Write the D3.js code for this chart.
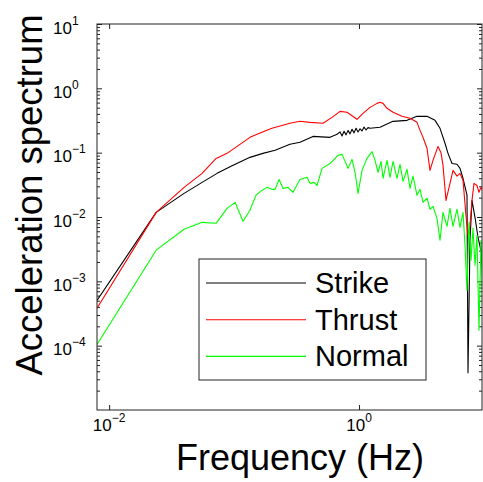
<!DOCTYPE html>
<html>
<head>
<meta charset="utf-8">
<script src="https://cdn.jsdelivr.net/npm/d3@7"></script>
<style>
  html, body { margin: 0; padding: 0; background: #fff; }
  svg { display: block; font-family: "Liberation Sans", Arial, Helvetica, sans-serif; }
</style>
</head>
<body>
<svg id="chart" width="483" height="482"></svg>
<script>
// ---------- data ----------
const seriesNames = ["Strike", "Thrust", "Normal"];
const seriesColors = ["#000000", "#ff0000", "#00ff00"];

const strikeFreq = [0.008, 0.0238, 0.0398, 0.0555, 0.0731, 0.0982, 0.134, 0.170, 0.213, 0.280, 0.337, 0.428, 0.586, 0.667,
  0.705, 0.731, 0.759, 0.787, 0.817, 0.847, 0.879, 0.912, 0.946, 0.982, 1.019, 1.057, 1.096, 1.138, 1.180, 1.225,
  1.472, 1.871, 2.421, 2.911, 3.500, 4.055, 4.446, 4.875, 5.152, 5.547, 6.082, 6.427, 6.793, 7.312, 7.448, 7.727,
  8.017, 8.472, 8.953, 9.82];
const strikeVal = [5.06e-4, 0.0118, 0.0233, 0.0345, 0.0477, 0.0635, 0.0845, 0.0975, 0.109, 0.135, 0.145, 0.179, 0.173, 0.193,
  0.210, 0.182, 0.215, 0.189, 0.222, 0.196, 0.231, 0.203, 0.240, 0.210, 0.235, 0.218, 0.250, 0.225, 0.245, 0.239,
  0.248, 0.307, 0.318, 0.367, 0.367, 0.318, 0.239, 0.140, 0.0975, 0.0678, 0.066, 0.057, 0.040, 0.0218, 3.8e-5, 0.00435,
  0.0181, 0.0099, 0.00485, 0.00212];

const thrustFreq = [0.008, 0.0238, 0.0398, 0.0555, 0.0718, 0.0879, 0.134, 0.167, 0.201, 0.280, 0.337, 0.405, 0.515, 0.608,
  0.705, 0.802, 0.964, 1.076, 1.225, 1.393, 1.472, 1.556, 1.675, 1.871, 2.208, 2.559, 2.911, 3.076, 3.251, 3.500,
  3.698, 3.908, 4.286, 4.529, 4.699, 4.966, 5.346, 5.650, 6.082, 6.427, 6.793, 7.178, 7.448, 7.727, 8.017, 8.317,
  8.790, 9.120, 9.463, 9.82];
const thrustVal = [3.81e-4, 0.0118, 0.0289, 0.0477, 0.0815, 0.0975, 0.173, 0.207, 0.239, 0.286, 0.307, 0.296, 0.286, 0.354,
  0.439, 0.424, 0.330, 0.409, 0.506, 0.584, 0.606, 0.584, 0.489, 0.424, 0.367, 0.342, 0.296, 0.222, 0.173, 0.117,
  0.0531, 0.0759, 0.125, 0.100, 0.0635, 0.0181, 0.0333, 0.0531, 0.0432, 0.0477, 0.0372, 0.0105, 0.0052, 0.00743, 0.0181, 0.0333,
  0.0309, 0.0242, 0.0289, 0.0259];

const normalFreq = [0.008, 0.0238, 0.0398, 0.0555, 0.0718, 0.0879, 0.1019, 0.118, 0.134, 0.1495, 0.167, 0.183, 0.201, 0.213,
  0.229, 0.247, 0.270, 0.296, 0.337, 0.384, 0.405, 0.436, 0.461, 0.506, 0.586, 0.679, 0.731, 0.773, 0.817, 0.879,
  0.929, 0.982, 1.057, 1.159, 1.271, 1.343, 1.419, 1.500, 1.556, 1.675, 1.770, 1.871, 2.014, 2.128, 2.249, 2.421,
  2.559, 2.704, 2.911, 3.076, 3.251, 3.500, 3.698, 3.908, 4.207, 4.446, 4.699, 5.058, 5.346, 5.650, 6.082, 6.427,
  6.793, 7.048, 7.312, 7.587, 7.871, 8.166, 8.472, 8.790, 9.120, 9.463, 9.82];
const normalVal = [1.04e-4, 0.00305, 0.00645, 0.00826, 0.00798, 0.0136, 0.0169, 0.00857, 0.0127, 0.0217, 0.0259, 0.0289, 0.0269, 0.0269,
  0.0383, 0.0278, 0.0289, 0.0242, 0.0383, 0.0414, 0.0333, 0.0345, 0.0309, 0.057, 0.0678, 0.0908, 0.0941, 0.0733, 0.057, 0.0786,
  0.0496, 0.0233, 0.0531, 0.0815, 0.104, 0.0759, 0.0496, 0.0731, 0.040, 0.0759, 0.0414, 0.0733, 0.040, 0.066, 0.0358, 0.0551,
  0.0278, 0.0432, 0.0217, 0.0269, 0.0169, 0.0196, 0.0132, 0.0146, 0.00954, 0.00435, 0.0118, 0.00717, 0.0136, 0.00717, 0.0132, 0.00691,
  0.0118, 0.00362, 7.24e-4, 0.00826, 0.00212, 0.00672, 0.00178, 0.0052, 1.73e-4, 0.00435, 5.06e-4];

const xTickValues = [0.01, 1];
const xTickExponents = ["\u22122", "0"];
const yTickValues = [1e-4, 1e-3, 1e-2, 1e-1, 1, 10];
const yTickExponents = ["\u22124", "\u22123", "\u22122", "\u22121", "0", "1"];
const xTitle = "Frequency (Hz)";
const yTitle = "Acceleration spectrum";

// ---------- layout ----------
const L = 97, R = 482, T = 24, B = 410;
const svg = d3.select("#chart");

const x = d3.scaleLog().domain([0.008, 9.64]).range([L, R]);
const y = d3.scaleLog().domain([1e-5, 10]).range([B, T]);

const axisColor = "#222";

const yMinor = [];
for (let e = -5; e < 1; e++) for (let m = 2; m <= 9; m++) yMinor.push(m * Math.pow(10, e));

function styleAxis(g) {
  g.select(".domain").remove();
  g.selectAll("line").attr("stroke", axisColor).attr("stroke-width", 1);
  g.selectAll("text").remove();
}

svg.append("g").attr("transform", `translate(${L},0)`)
  .call(d3.axisLeft(y).tickValues(yTickValues).tickSize(-5).tickFormat("")).call(styleAxis);
svg.append("g").attr("transform", `translate(${L},0)`)
  .call(d3.axisLeft(y).tickValues(yMinor).tickSize(-3).tickFormat("")).call(styleAxis);
svg.append("g").attr("transform", `translate(${R},0)`)
  .call(d3.axisRight(y).tickValues(yTickValues).tickSize(-5).tickFormat("")).call(styleAxis);
svg.append("g").attr("transform", `translate(${R},0)`)
  .call(d3.axisRight(y).tickValues(yMinor).tickSize(-3).tickFormat("")).call(styleAxis);
svg.append("g").attr("transform", `translate(0,${B})`)
  .call(d3.axisBottom(x).tickValues(xTickValues).tickSize(-5).tickFormat("")).call(styleAxis);
svg.append("g").attr("transform", `translate(0,${T})`)
  .call(d3.axisTop(x).tickValues(xTickValues).tickSize(-5).tickFormat("")).call(styleAxis);

svg.append("defs").append("clipPath").attr("id", "clip")
  .append("rect").attr("x", L).attr("y", T).attr("width", R - L).attr("height", B - T);

const line = d3.line().x(d => x(d[0])).y(d => y(d[1]));
const seriesData = [
  d3.zip(strikeFreq, strikeVal),
  d3.zip(thrustFreq, thrustVal),
  d3.zip(normalFreq, normalVal)
];
const plotG = svg.append("g").attr("clip-path", "url(#clip)");
[0, 1, 2].forEach(i => {
  plotG.append("path").datum(seriesData[i])
    .attr("fill", "none").attr("stroke", seriesColors[i]).attr("stroke-width", 1.1)
    .attr("stroke-linejoin", "round").attr("d", line);
});

svg.append("rect").attr("x", L).attr("y", T).attr("width", R - L).attr("height", B - T)
  .attr("fill", "none").attr("stroke", axisColor).attr("stroke-width", 1);

yTickValues.forEach((v, i) => {
  const t = svg.append("text").attr("x", 53).attr("y", y(v) + 9.5)
    .attr("font-size", 17).attr("fill", "#000");
  t.append("tspan").text("10");
  t.append("tspan").attr("font-size", 12).attr("dy", -9).text(yTickExponents[i]);
});
xTickValues.forEach((v, i) => {
  const t = svg.append("text").attr("x", x(v)).attr("y", 431)
    .attr("font-size", 17).attr("fill", "#000").attr("text-anchor", "middle");
  t.append("tspan").text("10");
  t.append("tspan").attr("font-size", 12).attr("dy", -9).text(xTickExponents[i]);
});

svg.append("text").attr("x", 300).attr("y", 470).attr("text-anchor", "middle")
  .attr("font-size", 36).attr("fill", "#000").text(xTitle);
svg.append("text").attr("transform", "translate(42,195) rotate(-90)").attr("text-anchor", "middle")
  .attr("font-size", 36.5).attr("fill", "#000").text(yTitle);

const lg = svg.append("g");
lg.append("rect").attr("x", 199).attr("y", 259).attr("width", 227).attr("height", 121)
  .attr("fill", "#fff").attr("stroke", axisColor).attr("stroke-width", 1);
seriesNames.forEach((name, i) => {
  const cy = 283 + i * 36.7;
  lg.append("line").attr("x1", 206).attr("x2", 306).attr("y1", cy).attr("y2", cy)
    .attr("stroke", seriesColors[i]).attr("stroke-width", 1.1);
  lg.append("text").attr("x", 315).attr("y", cy + 10).attr("font-size", 29).attr("fill", "#000").text(name);
});
</script>
</body>
</html>
